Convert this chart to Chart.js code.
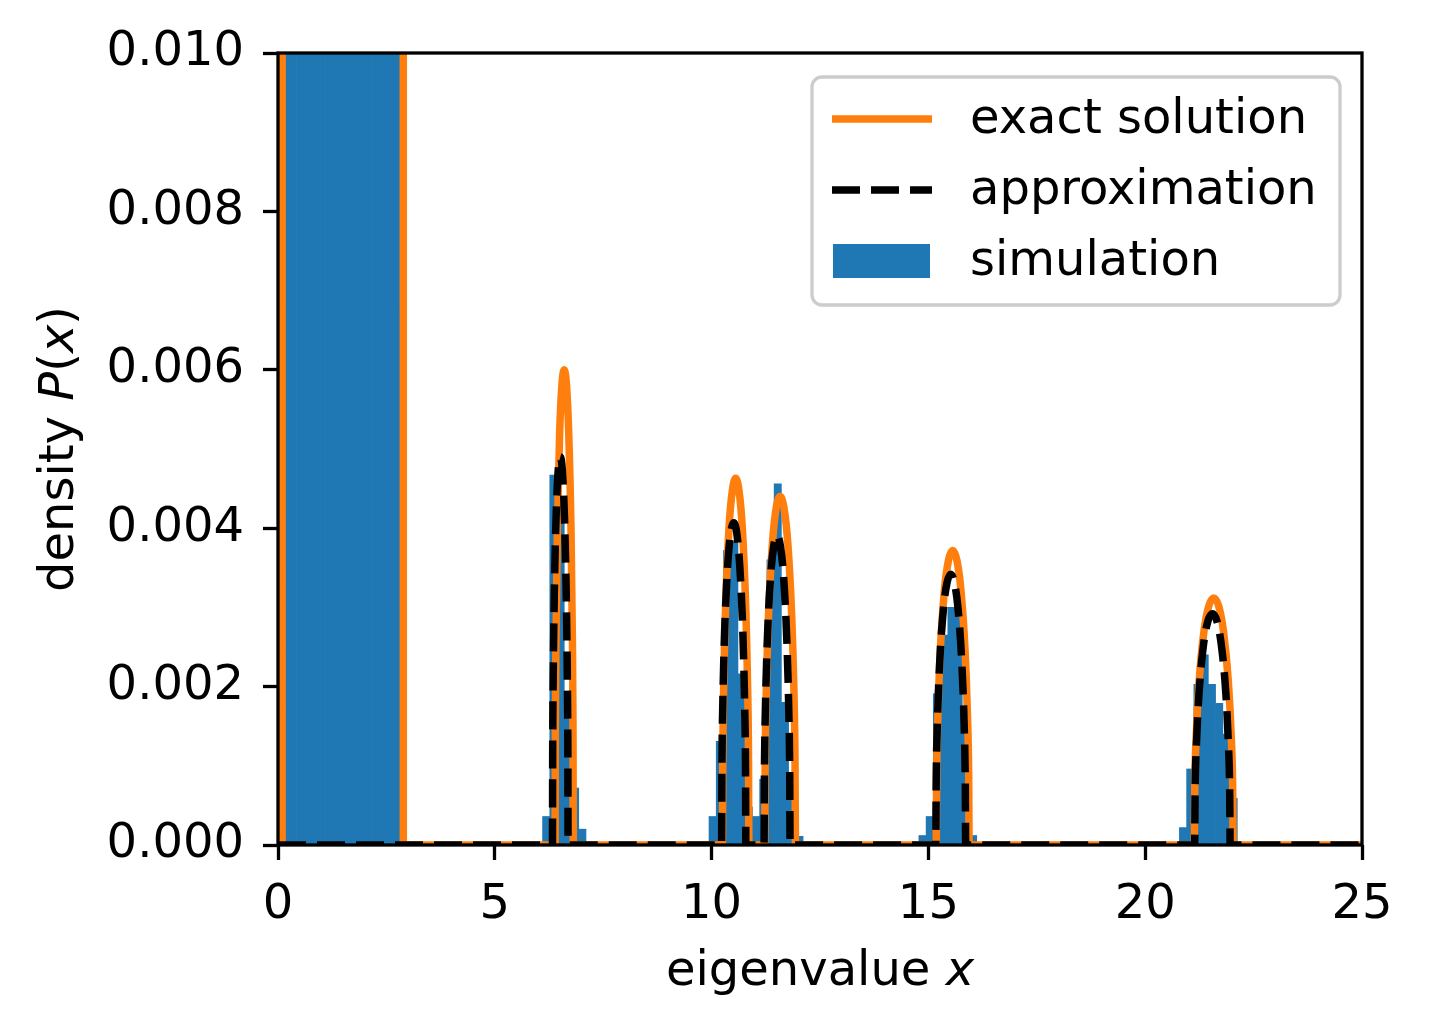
<!DOCTYPE html>
<html><head><meta charset="utf-8">
<script src="https://cdn.jsdelivr.net/npm/chart.js@4.4.1/dist/chart.umd.min.js"></script>
<style>html,body{margin:0;padding:0;background:#fff;}#wrap{width:1429px;height:1032px;}</style>
</head><body><div id="wrap"><canvas id="c" width="1429" height="1032"></canvas></div>
<script>
// ---------- data ----------
const xTickValues = [0, 5, 10, 15, 20, 25];
const yTickValues = [0.000, 0.002, 0.004, 0.006, 0.008, 0.010];

// histogram (simulation): bin indices and densities of non-empty bins
const histFirstEdge = 0.093;
const histBinWidth = 0.1669;
const simBins = [0,1,2,3,4,5,6,7,8,9,10,11,12,13,14,15,16,
  36,37,38,39,40,41,
  59,60,61,62,63,64,65,66,67,68,69,70,71,
  88,89,90,91,92,93,94,95,
  124,125,126,127,128,129,130,131];
const simDensity = [0.30,0.22,0.19,0.17,0.16,0.15,0.14,0.135,0.13,0.125,0.12,0.115,0.11,0.10,0.09,0.08,0.06,
  0.00036,0.00467,0.00408,0.0017,0.00072,0.0002,
  0.00036,0.00131,0.00372,0.00383,0.00216,0.00048,0.00036,0.00083,0.0036,0.00456,0.0018,0.0006,0.00011,
  0.00012,0.00036,0.00191,0.00265,0.0030,0.0030,0.0015,0.00012,
  0.00022,0.00096,0.00203,0.0024,0.00203,0.00179,0.0014,0.00059];

// exact solution
const exactX = [0,0.095,0.097,0.5,1.5,2.5,2.888,2.890,
  6.39,6.396,6.411,6.443,6.495,6.548,6.60,6.653,6.705,6.758,6.789,6.804,6.81,
  10.25,10.259,10.28,10.326,10.402,10.479,10.555,10.631,10.708,10.784,10.83,10.851,10.86,
  11.225,11.236,11.26,11.314,11.403,11.491,11.58,11.669,11.758,11.846,11.90,11.924,11.935,
  15.18,15.191,15.218,15.275,15.37,15.465,15.56,15.655,15.75,15.845,15.902,15.929,15.94,
  21.13,21.144,21.175,21.243,21.355,21.468,21.58,21.693,21.805,21.918,21.985,22.017,22.03,
  25];
const exactY = [0,0,0.06,0.30,0.25,0.20,0.06,0,
  0,0.00146,0.00262,0.00397,0.0052,0.00581,0.0060,0.00581,0.0052,0.00397,0.00262,0.00146,0,
  0,0.00113,0.00202,0.00306,0.00401,0.00448,0.00463,0.00448,0.00401,0.00306,0.00202,0.00113,0,
  0,0.00107,0.00192,0.00291,0.00381,0.00426,0.0044,0.00426,0.00381,0.00291,0.00192,0.00107,0,
  0,0.0009,0.00162,0.00246,0.00322,0.0036,0.00372,0.0036,0.00322,0.00246,0.00162,0.0009,0,
  0,0.00076,0.00136,0.00206,0.0027,0.00302,0.00312,0.00302,0.0027,0.00206,0.00136,0.00076,0,
  0];

// approximation
const approxX = [0,
  6.33,6.335,6.348,6.375,6.42,6.465,6.51,6.555,6.60,6.645,6.672,6.685,6.69,
  10.23,10.238,10.258,10.30,10.37,10.44,10.51,10.58,10.65,10.72,10.762,10.782,10.79,
  11.21,11.219,11.24,11.285,11.36,11.435,11.51,11.585,11.66,11.735,11.78,11.801,11.81,
  15.17,15.18,15.205,15.256,15.343,15.429,15.515,15.601,15.688,15.774,15.826,15.85,15.86,
  21.14,21.152,21.181,21.243,21.345,21.448,21.55,21.653,21.755,21.858,21.919,21.948,21.96,
  25];
const approxY = [0,
  0,0.0012,0.00214,0.00325,0.00425,0.00475,0.0049,0.00475,0.00425,0.00325,0.00214,0.0012,0,
  0,0.00099,0.00177,0.00269,0.00352,0.00394,0.00407,0.00394,0.00352,0.00269,0.00177,0.00099,0,
  0,0.00095,0.0017,0.00258,0.00339,0.00378,0.00391,0.00378,0.00339,0.00258,0.0017,0.00095,0,
  0,0.00083,0.00149,0.00226,0.00296,0.00331,0.00342,0.00331,0.00296,0.00226,0.00149,0.00083,0,
  0,0.00071,0.00127,0.00193,0.00253,0.00283,0.00292,0.00283,0.00253,0.00193,0.00127,0.00071,0,
  0];

const legendLabels = ['exact solution', 'approximation', 'simulation'];
const xTitle = [['eigenvalue ', false], ['x', true]];
const yTitle = [['density ', false], ['P', true], ['(', false], ['x', true], [')', false]];

// ---------- styles ----------
const FONT = '"DejaVu Sans", "Liberation Sans", sans-serif';
const FS = 48;
const BLUE = '#1f77b4', ORANGE = '#ff7f0e', BLACK = '#000000';
const LW = 7.5, DASH = [28, 11];

const simPoints = simBins.map((b, i) => ({x: histFirstEdge + (b + 0.5) * histBinWidth, y: simDensity[i]}));
const exactPoints = exactX.map((x, i) => ({x, y: exactY[i]}));
const approxPoints = approxX.map((x, i) => ({x, y: approxY[i]}));

function drawRich(ctx, parts, cx, cy) {
  let total = 0;
  const widths = parts.map(([t, it]) => {
    ctx.font = (it ? 'italic ' : '') + FS + 'px ' + FONT;
    const w = ctx.measureText(t).width; total += w; return w;
  });
  let x = cx - total / 2;
  parts.forEach(([t, it], i) => {
    ctx.font = (it ? 'italic ' : '') + FS + 'px ' + FONT;
    ctx.fillText(t, x, cy);
    x += widths[i];
  });
}

const decor = {
  id: 'decor',
  afterDatasetsDraw(chart) {
    const {ctx, chartArea: a} = chart;
    ctx.save();
    ctx.strokeStyle = BLACK; ctx.lineWidth = 3.3;
    ctx.strokeRect(a.left, a.top, a.right - a.left, a.bottom - a.top);
    ctx.restore();
  },
  afterDraw(chart) {
    const {ctx, chartArea: a} = chart;
    ctx.save();
    ctx.fillStyle = BLACK;
    ctx.textBaseline = 'alphabetic';
    ctx.textAlign = 'left';
    drawRich(ctx, xTitle, (a.left + a.right) / 2, 985);
    ctx.save();
    ctx.translate(73, (a.top + a.bottom) / 2);
    ctx.rotate(-Math.PI / 2);
    drawRich(ctx, yTitle, 0, 0);
    ctx.restore();

    // legend
    const bx = 812, by = 77, bw = 528, bh = 228, r = 10;
    ctx.beginPath();
    ctx.roundRect(bx, by, bw, bh, r);
    ctx.fillStyle = 'rgba(255,255,255,0.8)';
    ctx.fill();
    ctx.strokeStyle = '#cccccc'; ctx.lineWidth = 3.3;
    ctx.stroke();
    const rows = [119, 190, 261];
    ctx.lineCap = 'butt';
    ctx.strokeStyle = ORANGE; ctx.lineWidth = LW;
    ctx.beginPath(); ctx.moveTo(832, rows[0]); ctx.lineTo(932, rows[0]); ctx.stroke();
    ctx.strokeStyle = BLACK; ctx.setLineDash(DASH);
    ctx.beginPath(); ctx.moveTo(832, rows[1]); ctx.lineTo(932, rows[1]); ctx.stroke();
    ctx.setLineDash([]);
    ctx.fillStyle = BLUE;
    ctx.fillRect(833, rows[2] - 17, 97, 34);
    ctx.fillStyle = BLACK;
    ctx.font = FS + 'px ' + FONT;
    ctx.textBaseline = 'middle';
    legendLabels.forEach((t, i) => ctx.fillText(t, 970, rows[i] + 2));
    ctx.restore();
  }
};

new Chart(document.getElementById('c'), {
  type: 'bar',
  data: {
    datasets: [
      {type: 'line', label: legendLabels[1], data: approxPoints, borderColor: BLACK, borderWidth: LW,
       borderDash: DASH, pointRadius: 0, cubicInterpolationMode: 'monotone', fill: false,
       borderJoinStyle: 'round', clip: 0, order: 1},
      {type: 'line', label: legendLabels[0], data: exactPoints, borderColor: ORANGE, borderWidth: LW,
       pointRadius: 0, cubicInterpolationMode: 'monotone', fill: false,
       borderJoinStyle: 'round', clip: 0, order: 2},
      {type: 'bar', label: legendLabels[2], data: simPoints, backgroundColor: BLUE, borderWidth: 0,
       barPercentage: 1, categoryPercentage: 1, clip: 0, order: 3}
    ]
  },
  options: {
    responsive: false, animation: false, devicePixelRatio: 1,
    layout: {padding: {top: 53, right: 67, left: 0, bottom: 0}},
    plugins: {legend: {display: false}, tooltip: {enabled: false}},
    scales: {
      x: {
        type: 'linear', min: 0, max: 25, offset: false,
        afterBuildTicks: s => { s.ticks = xTickValues.map(v => ({value: v})); },
        ticks: {color: BLACK, font: {family: FONT, size: FS}, padding: 17, maxRotation: 0,
                callback: v => String(v)},
        grid: {offset: false, drawOnChartArea: false, drawTicks: true, tickLength: 15, tickWidth: 3.3, tickColor: BLACK},
        border: {display: false},
        afterFit: s => { s.height = 187; }
      },
      y: {
        type: 'linear', min: 0, max: 0.01,
        afterBuildTicks: s => { s.ticks = yTickValues.map(v => ({value: v})); },
        ticks: {color: BLACK, font: {family: FONT, size: FS}, padding: 19,
                callback: v => Number(v).toFixed(3)},
        grid: {drawOnChartArea: false, drawTicks: true, tickLength: 15, tickWidth: 3.3, tickColor: BLACK},
        border: {display: false},
        afterFit: s => { s.width = 278; }
      }
    }
  },
  plugins: [decor]
});
</script></body></html>
